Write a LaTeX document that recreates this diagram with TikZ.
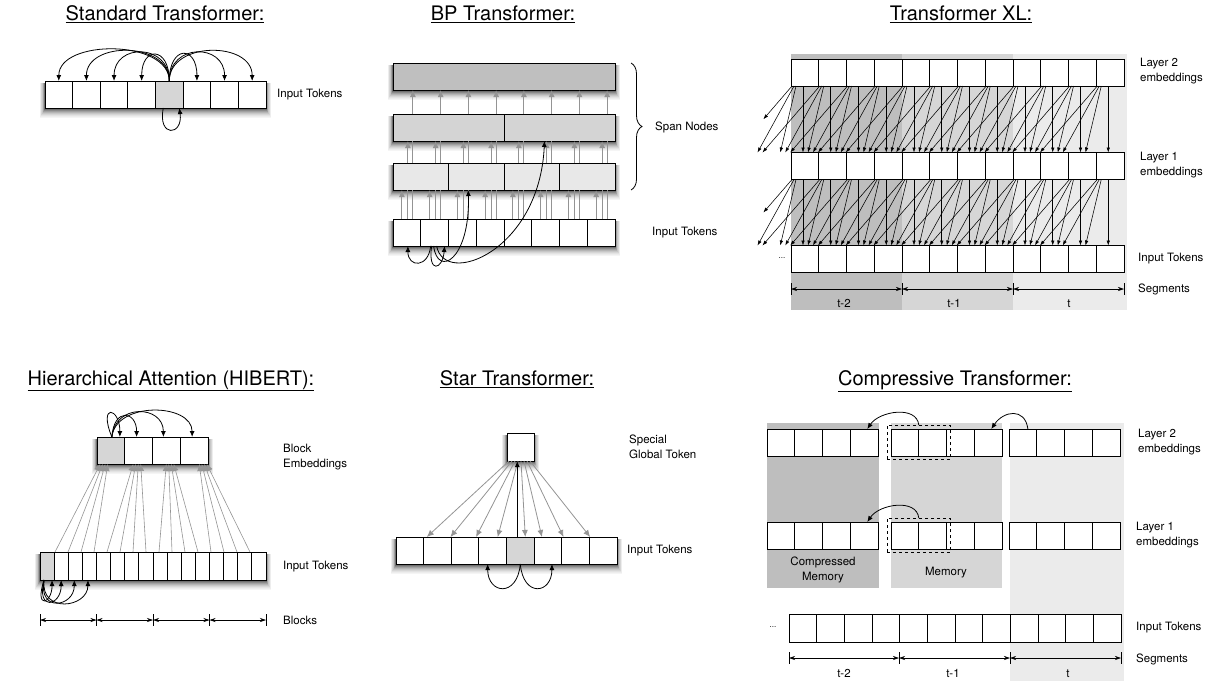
\documentclass[tikz,border=0pt]{standalone}
\usepackage{fontspec}
\setmainfont{TeX Gyre Heros}
\usetikzlibrary{arrows.meta,positioning,calc,fit,decorations.pathreplacing}

\definecolor{segdark}{gray}{0.745}
\definecolor{segmid}{gray}{0.84}
\definecolor{seglight}{gray}{0.92}
\definecolor{cellgrey}{gray}{0.84}
\definecolor{spanA}{gray}{0.75}
\definecolor{spanB}{gray}{0.83}
\definecolor{spanC}{gray}{0.91}
\definecolor{linkgrey}{gray}{0.58}

\begin{document}
\begin{tikzpicture}[x=1pt,y=-1pt,
cell/.style={draw, line width=0.8pt, fill=white, inner sep=0pt, outer sep=0pt, minimum width=27.75pt, minimum height=27pt},
title/.style={font=\fontsize{20}{24}\selectfont, anchor=base, inner sep=0pt},
lbl/.style={font=\fontsize{11.5}{14.5}\selectfont, anchor=west, align=left, inner sep=0pt},
lblc/.style={font=\fontsize{11.5}{14.5}\selectfont, anchor=base, inner sep=0pt},
dots/.style={font=\fontsize{8}{10}\selectfont, inner sep=0pt},
blkarr/.style={-{Latex[length=6pt,width=5pt]}, line width=0.8pt},
greyline/.style={line width=1pt, draw=linkgrey},
greyarr/.style={-{Latex[length=7pt,width=6pt]}, line width=1pt, draw=linkgrey},
xlarr/.style={-{Latex[length=5pt,width=3.5pt]}, line width=0.55pt},
segarr/.style={{Stealth[length=6pt,width=4pt]}-{Stealth[length=6pt,width=4pt]}, line width=0.6pt},
tick/.style={line width=0.8pt}
]
\useasboundingbox (0,0) rectangle (1226,681);

% segment shading
\fill[segdark] (791,54) rectangle (902,310);
\fill[segmid] (902,54) rectangle (1013,310);
\fill[seglight] (1013,54) rectangle (1127,310);
\fill[segdark] (767,423) rectangle (879,588);
\fill[segmid] (891,423) rectangle (1002,588);
\fill[seglight] (1010,423) rectangle (1124,681);

% soft shadows under the rows (left/top/right/bottom)
\foreach \xa/\ya/\xb/\yb in {45/81/266/108, 393/63/615/90, 393/114/615/141, 393/163/615/190, 393/219/615/246,
    97/437/208/464, 40/552/266/580, 507/433/534/461, 396/537/617/564}
  \foreach \sr/\sp in {9/4,8/7,7/11,6/16,5/22,4/29,3/37,2/46,1/56}
    \fill[fill=black!\sp] (\xa-0.6*\sr,\ya+2) rectangle (\xb+0.6*\sr,\yb+1+\sr);

% ---------------- Standard Transformer
\node[title] (sd-title) at (165,20) {\underline{Standard Transformer:}};
\foreach \i in {0,...,7}
  \node[cell, minimum width=27.625pt] (sd-\i) at (58.8+27.625*\i,94.5) {};
\node[cell, minimum width=27.625pt, fill=cellgrey] (sd-4) at (169.3,94.5) {};
\foreach \i/\h in {0/42,1/40,2/38,3/35,5/36,6/38,7/40}
  \draw[blkarr] (sd-4.north) .. controls +(0,-\h) and +(0,-\h) .. (sd-\i.north);
\draw[blkarr] ($(sd-4.south)+(-6,0)$) .. controls +(-6,30) and +(4,28) .. ($(sd-4.south)+(10,0)$);
\node[lbl] at (277,95) {Input Tokens};

% ---------------- BP Transformer
\node[title] (bp-title) at (503,20) {\underline{BP Transformer:}};
\node[cell, fill=spanA, minimum width=222pt] (bp-l3) at (504,76.5) {};
\foreach \i in {0,1}
  \node[cell, fill=spanB, minimum width=111pt] (bp-l2-\i) at (448.5+111*\i,127.5) {};
\foreach \i in {0,...,3}
  \node[cell, fill=spanC, minimum width=55.5pt] (bp-l1-\i) at (420.75+55.5*\i,176.5) {};
\foreach \i in {0,...,7}
  \node[cell] (bp-in-\i) at (406.875+27.75*\i,232.5) {};
\foreach \i in {0,...,7}{
  % token to first span level
  \draw[greyarr] ($(bp-in-\i.north)+(-5,0)$) coordinate (p) -- (p |- bp-l1-0.south);
  % token to second span level
  \draw[greyline] ($(bp-in-\i.north)+(1,0)$) coordinate (p) -- (p |- bp-l1-0.south);
  \draw[greyarr] (p |- bp-l1-0.north) -- (p |- bp-l2-0.south);
  % token to top span
  \draw[greyline] ($(bp-in-\i.north)+(6,0)$) coordinate (p) -- (p |- bp-l1-0.south);
  \draw[greyline] (p |- bp-l1-0.north) -- (p |- bp-l2-0.south);
  \draw[greyarr] (p |- bp-l2-0.north) -- (p |- bp-l3.south);
}
\draw[blkarr] ($(bp-in-1.south)+(-4,0)$) .. controls +(-2,22) and +(0,22) .. ($(bp-in-0.south)+(1,0)$);
\draw[blkarr] ($(bp-in-1.south)+(-3,0)$) .. controls +(-4,28) and +(-2,24) .. ($(bp-in-1.south)+(10,0)$);
\draw[blkarr] ($(bp-in-1.south)+(-1,0)$) .. controls +(4,32) and +(2,70) .. ($(bp-l1-1.south)+(-8,0)$);
\draw[blkarr] ($(bp-in-1.south)+(2,0)$) .. controls +(8,42) and +(-5,110) .. ($(bp-l2-1.south)+(-15,0)$);
\draw[line width=0.8pt, decorate, decoration={brace, amplitude=11pt}] (631,63) -- (631,190);
\node[lbl] at (655,127) {Span Nodes};
\node[lbl] at (652,233) {Input Tokens};

% ---------------- Transformer XL
\node[title] (xl-title) at (961,20) {\underline{Transformer XL:}};
\foreach \i in {0,...,11}{
  \node[cell] (xa-\i) at (804.875+27.75*\i,72.5) {};
  \node[cell] (xb-\i) at (804.875+27.75*\i,166) {};
  \node[cell] (xc-\i) at (804.875+27.75*\i,259) {};
}
\foreach \up/\lo in {xa/xb,xb/xc}{
  \foreach \j in {0,...,11}{
    \draw[xlarr] ($(\up-\j.south west)+(12,0)$) -- ($(\lo-\j.north west)+(12,0)$);
    \foreach \d in {1,2,3}{
      \pgfmathtruncatemacro\i{\j-\d}
      \pgfmathsetmacro\sx{7-2*\d}
      \pgfmathsetmacro\ex{17+5*(\d-1)}
      \coordinate (s) at ($(\up-\j.south west)+(\sx,0)$);
      \ifnum\i<0
        \pgfmathsetmacro\ex{\ex+27.75*\i}
        \coordinate (e) at ($(\lo-0.north west)+(\ex,0)$);
      \else
        \coordinate (e) at ($(\lo-\i.north west)+(\ex,0)$);
      \fi
      \ifnum\i<-2
        \draw[xlarr] (s) -- ($(s)!0.5!(e)$);
      \else
        \draw[xlarr] (s) -- (e);
      \fi
    }
  }
}
\node[dots] at (782,258) {...};
\foreach \k/\x in {0/791,1/902,2/1013,3/1124}{
  \coordinate (xs-\k) at (\x,289);
  \draw[tick] ($(xs-\k)+(0,-6)$) -- ($(xs-\k)+(0,6)$);
}
\draw[segarr] (xs-0) -- (xs-1);
\draw[segarr] (xs-1) -- (xs-2);
\draw[segarr] (xs-2) -- (xs-3);
\node[lblc] at (844,307) {t-2};
\node[lblc] at (954,307) {t-1};
\node[lblc] at (1069,307) {t};
\node[lbl] at (1140,71) {Layer 2\\embeddings};
\node[lbl] at (1140,165) {Layer 1\\embeddings};
\node[lbl] at (1138,259) {Input Tokens};
\node[lbl] at (1138,289) {Segments};

% ---------------- Hierarchical Attention (HIBERT)
\node[title] (hb-title) at (171,385) {\underline{Hierarchical Attention (HIBERT):}};
\foreach \b in {0,...,3}
  \node[cell] (hb-blk-\b) at (110.875+27.75*\b,450.5) {};
\node[cell, fill=cellgrey] (hb-blk-0) at (110.875,450.5) {};
\foreach \i in {0,...,15}
  \node[cell, minimum width=14.125pt, minimum height=28pt] (hb-tok-\i) at (47.06+14.125*\i,566) {};
\node[cell, minimum width=14.125pt, minimum height=28pt, fill=cellgrey] (hb-tok-0) at (47.06,566) {};
\foreach \n in {0,...,15}{
  \pgfmathtruncatemacro\b{floor(\n/4)}
  \pgfmathsetmacro\ex{7+5.25*\b+(\n-4*\b-1.5)*2.5}
  \draw[greyarr, line width=0.6pt] ($(hb-tok-0.north west)+(15+13*\n,0)$) -- ($(hb-blk-\b.south west)+(\ex,0)$);
}
\draw[blkarr] ($(hb-blk-0.north)+(1,0)$) .. controls +(-14,-34) and +(0,-30) .. ($(hb-blk-0.north)+(9,0)$);
\draw[blkarr] ($(hb-blk-0.north)+(1,0)$) .. controls +(2,-30) and +(0,-26) .. ($(hb-blk-1.north)+(-2,0)$);
\draw[blkarr] ($(hb-blk-0.north)+(1,0)$) .. controls +(3,-34) and +(0,-32) .. ($(hb-blk-2.north)+(-3,0)$);
\draw[blkarr] ($(hb-blk-0.north)+(1,0)$) .. controls +(4,-36) and +(0,-34) .. ($(hb-blk-3.north)+(-2,0)$);
\draw[blkarr] ($(hb-tok-0.south)+(-3,0)$) .. controls +(-10,30) and +(0,24) .. ($(hb-tok-0.south)+(5,0)$);
\draw[blkarr] ($(hb-tok-0.south)+(-3,0)$) .. controls +(-8,32) and +(0,26) .. (hb-tok-1.south);
\draw[blkarr] ($(hb-tok-0.south)+(-3,0)$) .. controls +(-6,33) and +(0,27) .. ($(hb-tok-2.south)+(-1,0)$);
\draw[blkarr] ($(hb-tok-0.south)+(-3,0)$) .. controls +(-4,34) and +(0,28) .. ($(hb-tok-3.south)+(-1.5,0)$);
\foreach \k in {0,...,4}{
  \coordinate (hb-s-\k) at (40+56.5*\k,620);
  \draw[tick] ($(hb-s-\k)+(0,-6)$) -- ($(hb-s-\k)+(0,6)$);
}
\foreach \k [evaluate=\k as \kn using int(\k+1)] in {0,...,3}
  \draw[segarr] (hb-s-\k) -- (hb-s-\kn);
\node[lbl] at (283,457) {Block\\Embeddings};
\node[lbl] at (283,567) {Input Tokens};
\node[lbl] at (283,620) {Blocks};

% ---------------- Star Transformer
\node[title] (st-title) at (517,385) {\underline{Star Transformer:}};
\node[cell, minimum height=28pt, minimum width=27pt] (st-g) at (520.5,447) {};
\foreach \i in {0,...,7}
  \node[cell, minimum width=27.625pt] (st-\i) at (409.8+27.625*\i,550.5) {};
\node[cell, minimum width=27.625pt, fill=cellgrey] (st-4) at (520.3,550.5) {};
\foreach \i/\ex in {0/17,1/13,2/11,3/5,4/5,5/-6,6/-12,7/-13}
  \draw[greyarr, line width=0.8pt] ($(st-g.south west)+(2+3*\i,0)$) -- ($(st-\i.north)+(\ex,0)$);
\draw[blkarr] ($(st-4.north)+(-3,0)$) coordinate (q) -- (q |- st-g.south);
\draw[blkarr] (st-4.south) .. controls +(-3,34) and +(0,30) .. ($(st-3.south)+(-5,0)$);
\draw[blkarr] (st-4.south) .. controls +(3,34) and +(0,30) .. ($(st-5.south)+(4,0)$);
\node[lbl] at (629,447) {Special\\Global Token};
\node[lbl] at (627,551) {Input Tokens};

% ---------------- Compressive Transformer
\node[title] (cp-title) at (955,385) {\underline{Compressive Transformer:}};
\foreach \s/\x in {0/767,1/891,2/1009}
  \foreach \c in {0,...,3}{
    \pgfmathtruncatemacro\n{4*\s+\c}
    \node[cell, minimum width=27.8pt] (cp-a-\n) at (\x+13.9+27.8*\c,442.5) {};
    \node[cell, minimum width=27.8pt] (cp-b-\n) at (\x+13.9+27.8*\c,535.5) {};
  }
\foreach \i in {0,...,11}
  \node[cell, minimum width=27.67pt, minimum height=28pt] (cp-c-\i) at (802.8+27.67*\i,628) {};
\node[draw, dashed, line width=0.8pt, fit=(cp-a-4)(cp-a-5), inner xsep=4pt, inner ysep=3.5pt] (cp-m2) {};
\node[draw, dashed, line width=0.8pt, fit=(cp-b-4)(cp-b-5), inner xsep=4pt, inner ysep=3.5pt] (cp-m1) {};
\draw[blkarr] (cp-m2.north) .. controls +(-2,-20) and +(12,-18) .. ($(cp-a-3.north)+(3,0)$);
\draw[blkarr] ($(cp-a-8.north)+(5,0)$) .. controls +(-3,-22) and +(12,-18) .. ($(cp-a-7.north)+(3,0)$);
\draw[blkarr] (cp-m1.north) .. controls +(-2,-20) and +(12,-18) .. ($(cp-b-3.north)+(3,0)$);
\node[font=\fontsize{11.5}{14.5}\selectfont, align=center, inner sep=0pt] at (823,570) {Compressed\\Memory};
\node[font=\fontsize{11.5}{14.5}\selectfont, inner sep=0pt] at (946,573) {Memory};
\node[dots] at (773,627) {...};
\foreach \k/\x in {0/789,1/899,2/1010,3/1121}{
  \coordinate (cp-s-\k) at (\x,658);
  \draw[tick] ($(cp-s-\k)+(0,-6)$) -- ($(cp-s-\k)+(0,6)$);
}
\draw[segarr] (cp-s-0) -- (cp-s-1);
\draw[segarr] (cp-s-1) -- (cp-s-2);
\draw[segarr] (cp-s-2) -- (cp-s-3);
\node[lblc] at (844,677) {t-2};
\node[lblc] at (953,677) {t-1};
\node[lblc] at (1068,677) {t};
\node[lbl] at (1138,442) {Layer 2\\embeddings};
\node[lbl] at (1136,535) {Layer 1\\embeddings};
\node[lbl] at (1136,628) {Input Tokens};
\node[lbl] at (1136,659) {Segments};
\end{tikzpicture}
\end{document}
